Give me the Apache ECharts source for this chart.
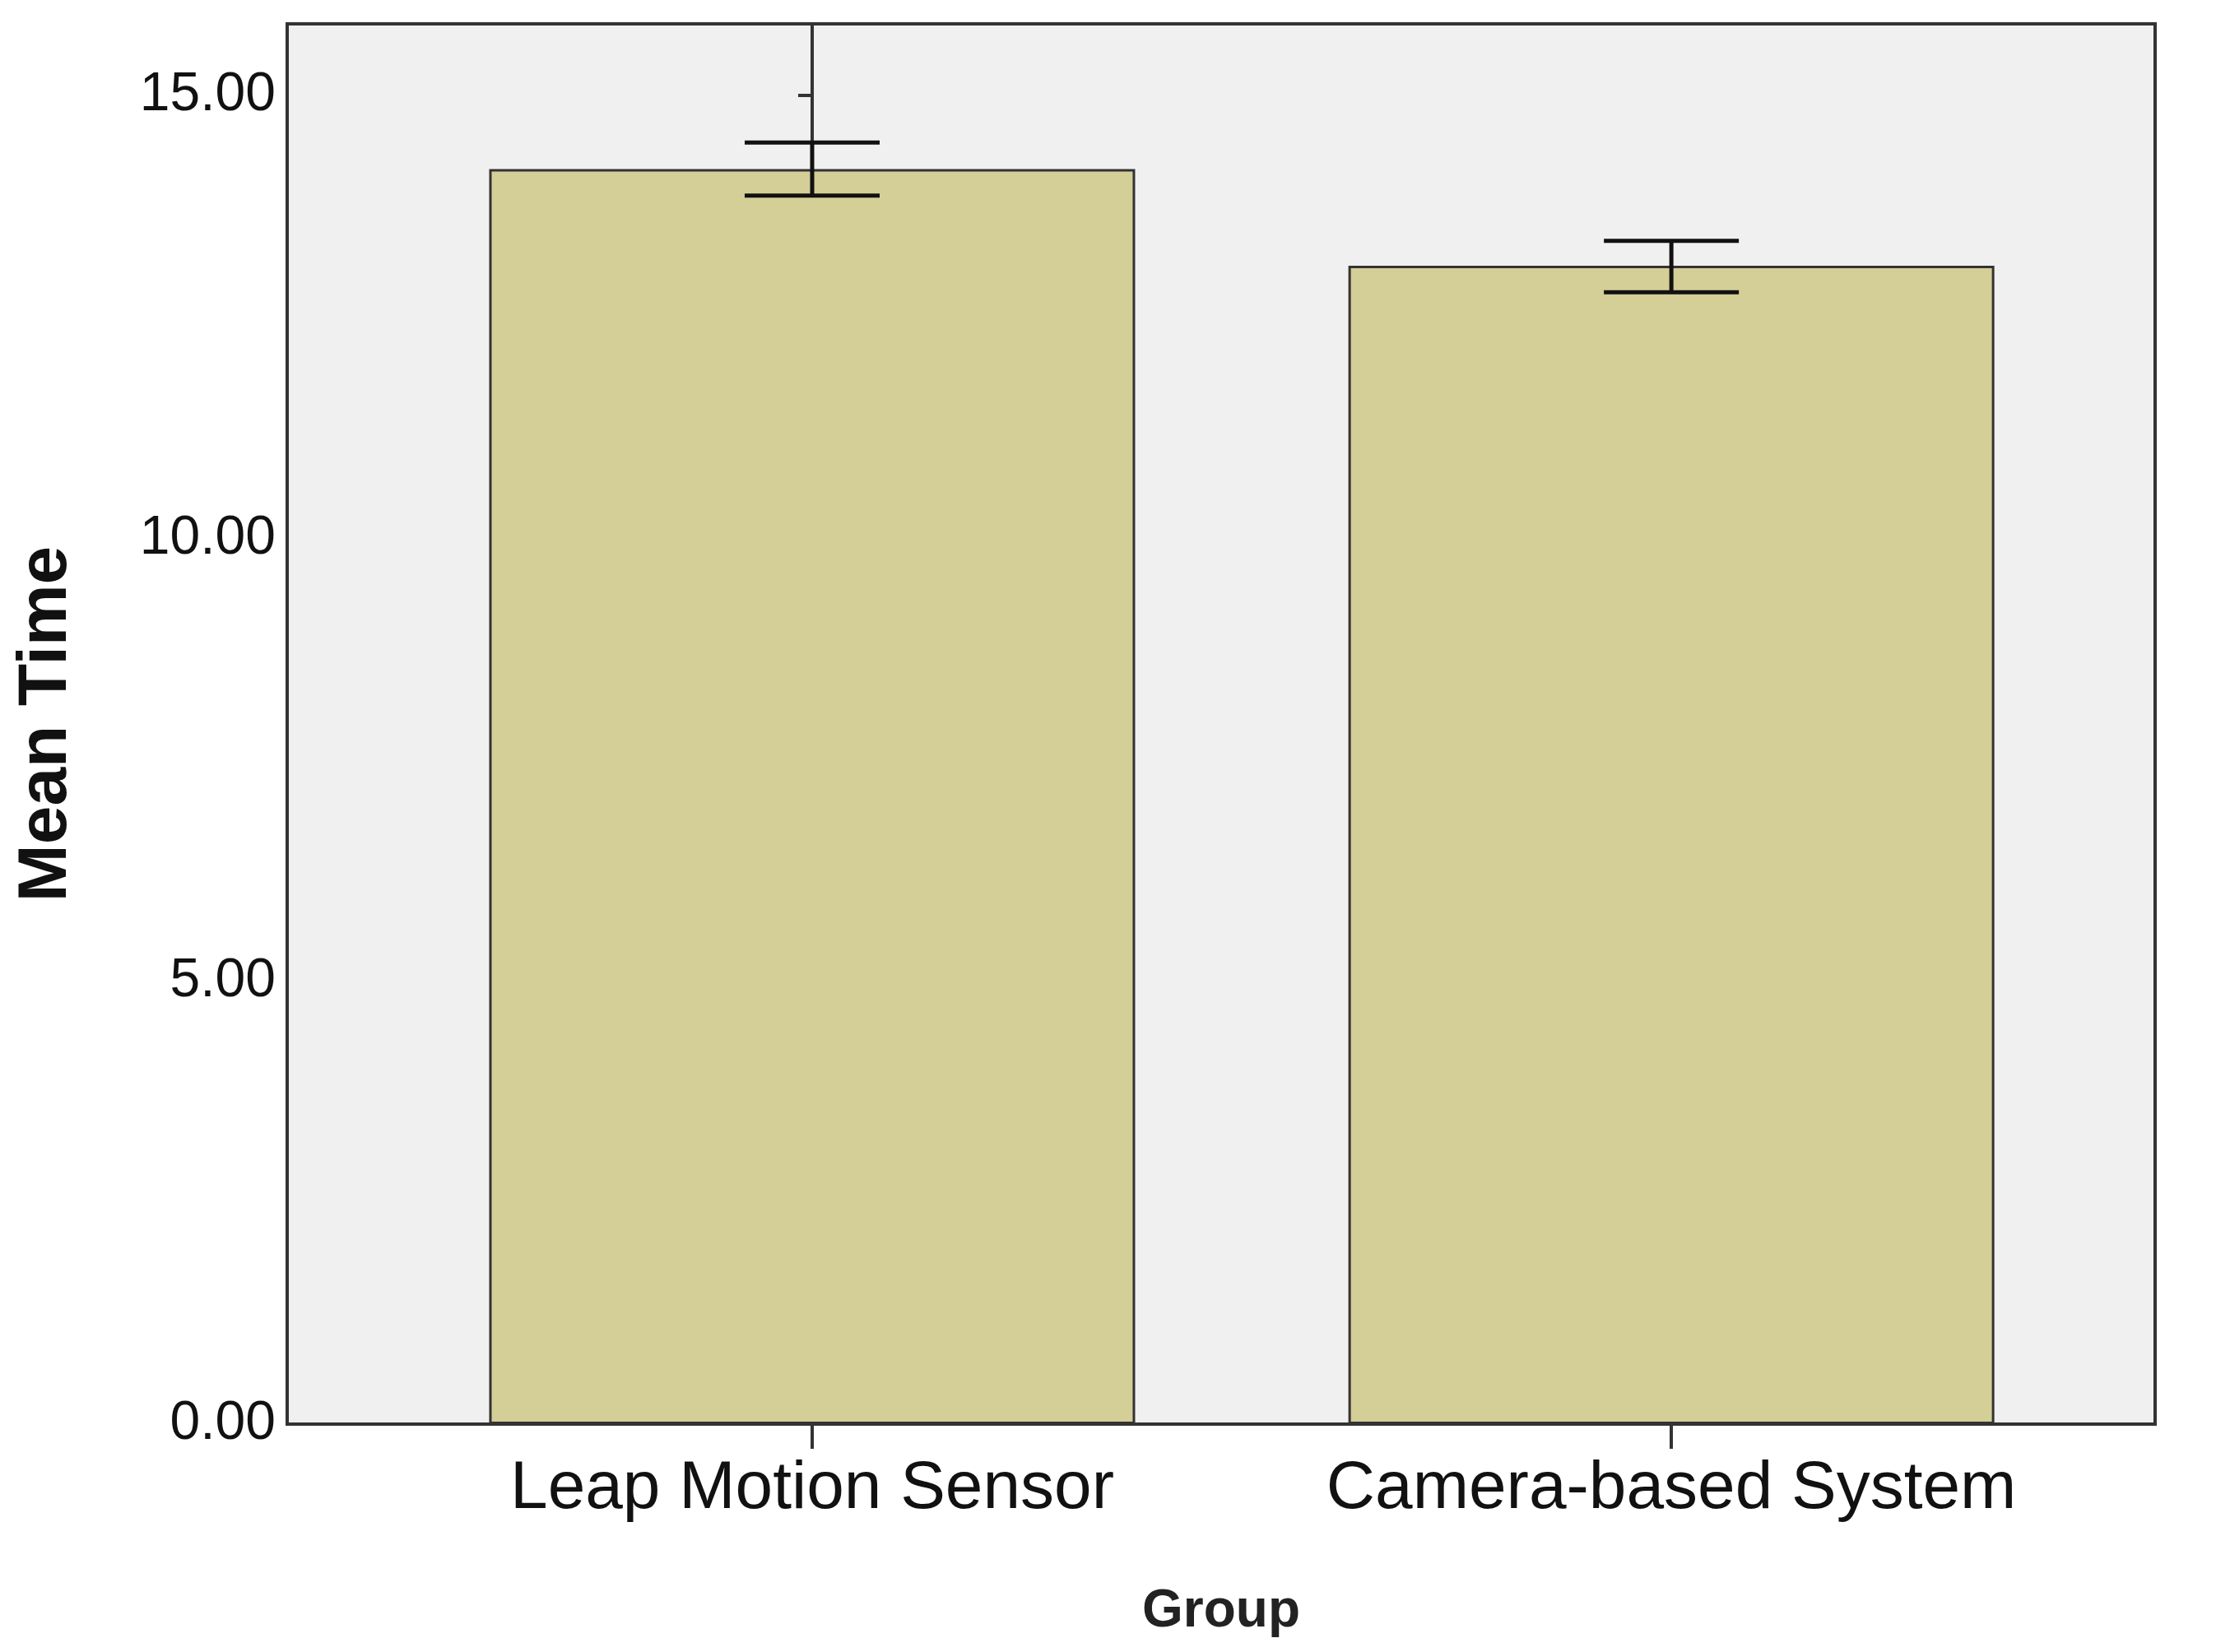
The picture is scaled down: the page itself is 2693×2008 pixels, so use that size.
<!DOCTYPE html>
<html>
<head>
<meta charset="utf-8">
<script src="https://cdn.jsdelivr.net/npm/echarts@6/dist/echarts.min.js"></script>
<style>html,body{margin:0;background:#fff}#c{width:2693px;height:2008px}</style>
</head>
<body>
<div id="c"></div>
<script>
const categories = ['Leap Motion Sensor', 'Camera-based System'];
const means = [14.17, 13.08];
const lower = [13.87, 12.78];
const upper = [14.47, 13.36];
const yTicks = [0, 5, 10, 15];

const font = 'Arial, Liberation Sans';
const chart = echarts.init(document.getElementById('c'));
chart.setOption({
    animation: false,
    grid: {left: 349, right: 74, top: 29, bottom: 277, show: true, backgroundColor: '#f0f0f0', borderColor: '#333', borderWidth: 4},
    xAxis: {
        type: 'value', min: -0.611, max: 1.563,
        name: 'Group', nameLocation: 'middle', nameGap: 196,
        nameTextStyle: {fontFamily: font, fontWeight: 'bold', fontSize: 64, color: '#222'},
        axisLine: {lineStyle: {color: '#333', width: 4}},
        axisTick: {show: true, customValues: [0, 1], length: 30, lineStyle: {color: '#333', width: 4}},
        axisLabel: {customValues: [0, 1], fontFamily: font, fontSize: 82, color: '#111', margin: 38,
            formatter: v => categories[Math.round(v)] || ''},
        splitLine: {show: false}
    },
    yAxis: {
        type: 'value', min: 0, max: 15.81,
        name: 'Mean Time', nameLocation: 'middle', nameGap: 250, nameRotate: 90,
        nameTextStyle: {fontFamily: font, fontWeight: 'bold', fontSize: 84, color: '#111'},
        axisLine: {show: true, lineStyle: {color: '#333', width: 4}},
        axisTick: {show: true, customValues: yTicks, length: 17, lineStyle: {color: '#333', width: 4}},
        splitLine: {show: false},
        axisLabel: {customValues: yTicks, fontFamily: font, fontSize: 66, color: '#111', margin: 14,
            formatter: v => v.toFixed(2)}
    },
    series: [{
        type: 'bar', data: means.map((m, i) => [i, m]), barWidth: 785,
        itemStyle: {color: '#d4ce97', borderColor: '#333', borderWidth: 3}
    }, {
        type: 'custom',
        data: categories.map((c, i) => [i, lower[i], upper[i]]),
        renderItem: (params, api) => {
            const lo = api.coord([api.value(0), api.value(1)]);
            const hi = api.coord([api.value(0), api.value(2)]);
            const w = 82;
            const s = {stroke: '#111', lineWidth: 5};
            return {type: 'group', children: [
                {type: 'line', shape: {x1: lo[0], y1: lo[1], x2: hi[0], y2: hi[1]}, style: s},
                {type: 'line', shape: {x1: lo[0] - w, y1: lo[1], x2: lo[0] + w, y2: lo[1]}, style: s},
                {type: 'line', shape: {x1: hi[0] - w, y1: hi[1], x2: hi[0] + w, y2: hi[1]}, style: s}
            ]};
        },
        z: 5
    }]
});
</script>
</body>
</html>
